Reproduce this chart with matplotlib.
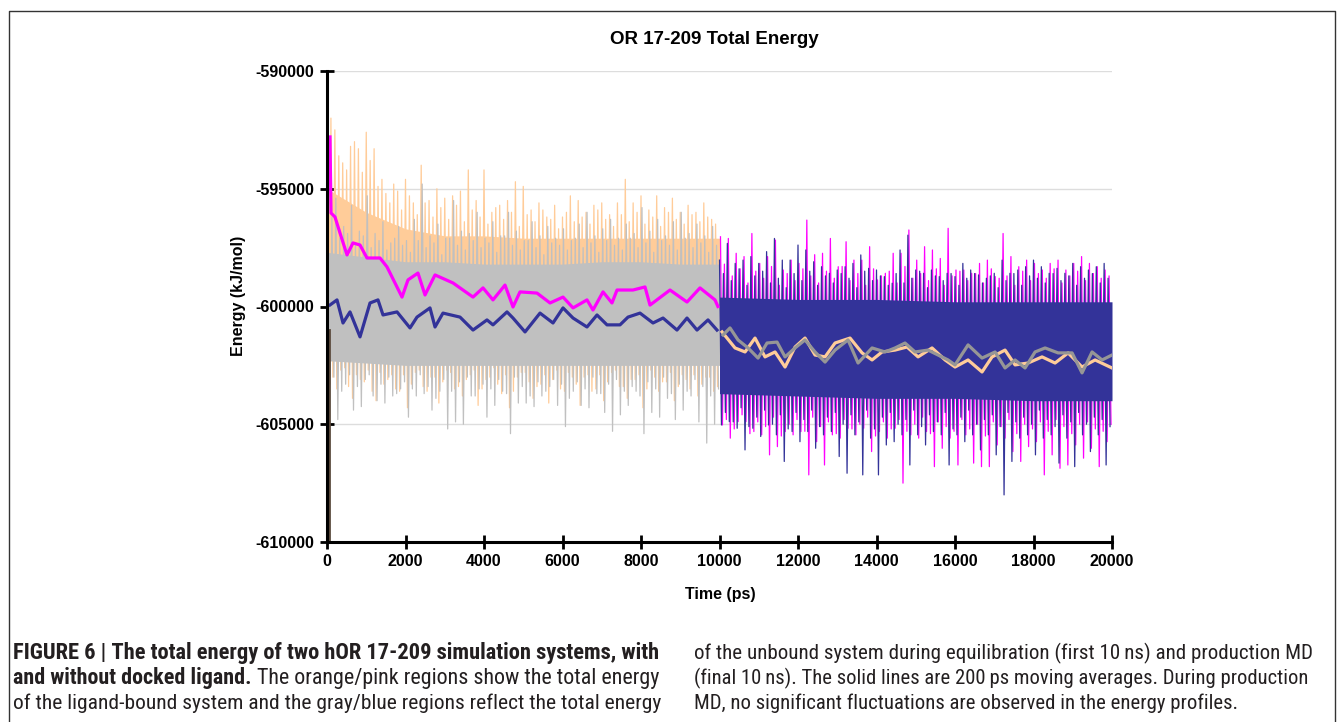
import matplotlib
matplotlib.use('Agg')
import matplotlib.pyplot as plt
import numpy as np
from matplotlib.lines import Line2D
from matplotlib import font_manager as fm

plt.rcParams['axes.unicode_minus'] = False
plt.rcParams['font.family'] = ['Liberation Sans', 'DejaVu Sans']

# ---------------- data ----------------
x_ticks = [0, 2000, 4000, 6000, 8000, 10000, 12000, 14000, 16000, 18000, 20000]
y_ticks = [-610000, -605000, -600000, -595000, -590000]

# Equilibration (0-10 ns) raw envelopes: tall spikes (every 200 ps) and in-between spikes
eq_t_pk = np.arange(0, 10000, 200)
bound_eq_hi = [-590200, -592500, -593900, -593200, -593300, -592600, -593300, -594600, -595600, -595100,
               -594600, -595600, -594000, -595500, -595000, -595400, -595300, -595100, -594200, -595500,
               -594200, -596000, -595700, -595500, -594700, -594900, -595900, -595600, -596200, -595700,
               -596200, -595300, -595500, -596000, -595700, -595600, -596100, -595600, -594600, -595600,
               -595300, -595900, -595300, -595800, -595400, -596000, -595700, -596000, -595600, -596300]
bound_eq_hi2 = [-592000, -593600, -594200, -593000, -594300, -593800, -594900, -595200, -594800, -595900,
                -595300, -596100, -595600, -596200, -595800, -596300, -595700, -596400, -595900, -596200,
                -596500, -595800, -596300, -596000, -596600, -596100, -596400, -595900, -596300, -596700,
                -596000, -596400, -596200, -596500, -595900, -596300, -596600, -596100, -596400, -596000,
                -596500, -596200, -596600, -596000, -596300, -596500, -596100, -596400, -596200, -596500]
bound_eq_lo = [-602800, -603500, -602600, -603900, -603100, -602700, -604000, -603300, -602900, -603600,
               -604300, -602800, -603400, -603000, -604100, -602700, -603500, -603800, -602900, -604200,
               -603100, -602600, -603700, -604300, -603000, -602800, -603900, -603300, -604100, -602700,
               -603600, -603000, -604200, -602900, -603500, -604000, -602800, -603400, -603900, -603100,
               -604300, -602700, -603600, -603200, -604000, -602900, -603500, -603800, -603000, -603600]
bound_eq_lo2 = [-603000, -602700, -603400, -602900, -603200, -603600, -602800, -603100, -603500, -602900,
                -603300, -602700, -603600, -603000, -603200, -602800, -603400, -603100, -602700, -603500,
                -603000, -603300, -602900, -603600, -602800, -603200, -603400, -602900, -603100, -603500,
                -602800, -603300, -603000, -603600, -602900, -603200, -602700, -603400, -603100, -602900,
                -603500, -603000, -603200, -602800, -603400, -603100, -602900, -603300, -603000, -603400]
unbound_eq_hi = [-596500, -595400, -596600, -595700, -596800, -595300, -596900, -596400, -597300, -596600,
                 -597200, -596300, -594800, -597000, -596500, -597100, -595500, -596800, -596900, -596000,
                 -597100, -596400, -597000, -596000, -596800, -597200, -596400, -597000, -596600, -597100,
                 -596700, -597200, -596500, -596000, -597000, -596700, -596300, -597100, -596500, -596900,
                 -595800, -596800, -596300, -597000, -596400, -596000, -596900, -596500, -597000, -596600]
unbound_eq_hi2 = [-596200, -597100, -596900, -597400, -597000, -597500, -597200, -597600, -597100, -597400,
                  -597700, -597200, -597500, -597300, -597800, -597100, -597400, -597600, -597200, -597500,
                  -597300, -597700, -597000, -597400, -597600, -597200, -597500, -597800, -597300, -597400,
                  -597600, -597100, -597500, -597300, -597700, -597200, -597400, -597600, -597100, -597500,
                  -597300, -597700, -597200, -597400, -597600, -597100, -597500, -597300, -597700, -597400]
unbound_eq_lo = [-603300, -604800, -603300, -604400, -604250, -602900, -604000, -604100, -603800, -603500,
                 -604700, -603800, -603700, -604400, -603600, -605200, -604900, -605000, -603800, -603500,
                 -604700, -604200, -603600, -605400, -604100, -604100, -604250, -603800, -603400, -604200,
                 -605100, -603600, -604200, -604300, -603700, -604500, -605300, -604600, -604200, -603600,
                 -605400, -604500, -604700, -603900, -604800, -604400, -603800, -604900, -605800, -605000]
unbound_eq_lo2 = [-603000, -603600, -602900, -603400, -603100, -603800, -603300, -603000, -603700, -603200,
                  -603500, -602900, -603400, -603900, -603100, -603600, -603200, -603000, -603800, -603300,
                  -603500, -603100, -603700, -603000, -603400, -603800, -603200, -603600, -603100, -603300,
                  -603900, -603200, -603500, -603000, -603700, -603300, -603100, -603600, -603400, -603800,
                  -603200, -603500, -603000, -603700, -603300, -603600, -603100, -603400, -603800, -603500]
band_t_eq = [0, 1000, 2000, 3000, 4000, 5000, 6000, 7000, 8000, 9000, 10000]
bound_eq_core_hi = [-595000, -596000, -596700, -597000, -597000, -597100, -597100, -597100, -597100, -597100, -597100]
bound_eq_core_lo = [-602300, -602300, -602300, -602400, -602400, -602400, -602400, -602400, -602400, -602400, -602400]
unbound_eq_core_hi = [-597700, -597900, -598100, -598100, -598200, -598200, -598200, -598100, -598100, -598200, -598200]
unbound_eq_core_lo = [-602300, -602400, -602500, -602500, -602500, -602500, -602500, -602500, -602500, -602500, -602500]
init_drop_t = [40, 40]
init_drop_e = [-601000, -612000]

# Production (10-20 ns) raw envelopes
pr_t_pk = np.arange(10000, 20000, 200)
bound_pr_hi = [-597040, -597110, -597740, -597880, -596900, -598170, -597880, -597180, -598450, -598030,
               -598170, -596330, -597800, -597740, -597110, -598310, -597250, -598030, -598030, -597460,
               -598870, -598590, -597740, -597740, -596750, -598030, -597460, -597600, -597960, -596680,
               -598450, -598450, -598590, -598170, -598030, -598730, -596900, -597880, -598310, -598030,
               -598170, -598450, -598170, -598030, -598450, -598170, -597880, -598170, -598310, -598450]
bound_pr_hi2 = [-598200, -598700, -598400, -599000, -598500, -598800, -598300, -599100, -598600, -598900,
                -598400, -598700, -599000, -598500, -598800, -598300, -598900, -598600, -599100, -598400,
                -598700, -598500, -599000, -598300, -598800, -598600, -598900, -598400, -599100, -598700,
                -598500, -598900, -598600, -599000, -598400, -598800, -598700, -599100, -598500, -598900,
                -598600, -598800, -598400, -599000, -598700, -598500, -598900, -598600, -598800, -598700]
bound_pr_lo = [-605030, -605590, -604890, -604890, -605310, -605450, -606300, -605950, -605310, -605450,
               -605310, -607150, -605740, -606730, -605450, -605590, -605170, -605450, -605170, -606160,
               -605310, -605590, -605170, -607500, -605450, -605590, -605310, -606800, -606020, -605590,
               -606730, -605450, -606650, -606800, -606800, -605880, -605590, -606160, -606580, -605950,
               -605740, -607150, -606300, -606870, -606730, -605880, -606440, -606020, -606800, -605740]
bound_pr_lo2 = [-604800, -605200, -604600, -605400, -604900, -605100, -604700, -605500, -605000, -604800,
                -605300, -604700, -605100, -604900, -605400, -604800, -605200, -605000, -604700, -605500,
                -604900, -605200, -604800, -605300, -605000, -604700, -605400, -604900, -605100, -605300,
                -604800, -605200, -605000, -605500, -604900, -605100, -604800, -605400, -605000, -605200,
                -604900, -605300, -604800, -605100, -605400, -605000, -604900, -605200, -605300, -605000]
unbound_pr_hi = [-598030, -597320, -598170, -598030, -597880, -598170, -597670, -597110, -598030, -598030,
                 -597390, -597600, -598100, -598310, -598590, -598450, -598310, -598170, -597810, -598380,
                 -598450, -598730, -599010, -597600, -596970, -598450, -598590, -598450, -598730, -598590,
                 -598730, -598170, -598450, -598660, -598800, -598590, -598030, -598590, -598450, -598310,
                 -598030, -598310, -598590, -598380, -598590, -598170, -598310, -598450, -598310, -598170]
unbound_pr_hi2 = [-598600, -598900, -598400, -599100, -598700, -598500, -599000, -598800, -599200, -598600,
                  -598900, -598500, -599100, -598700, -599000, -598600, -598800, -599200, -598500, -598900,
                  -598700, -599100, -598600, -599000, -598800, -598500, -599200, -598700, -598900, -598600,
                  -599100, -598800, -598600, -599000, -598700, -599200, -598900, -598600, -599100, -598700,
                  -598800, -599000, -598600, -598900, -598700, -599100, -598800, -598600, -599000, -598800]
unbound_pr_lo = [-605030, -604890, -605170, -606090, -605170, -605520, -605030, -605450, -606580, -605310,
                 -605740, -605310, -606020, -605450, -605310, -606370, -607080, -605450, -607150, -605590,
                 -607150, -605880, -605740, -605450, -606730, -605450, -605880, -605310, -605450, -606730,
                 -605450, -605740, -605450, -606090, -605450, -606300, -608000, -606580, -605590, -605450,
                 -606300, -605590, -605450, -606650, -605590, -606800, -605450, -606160, -605450, -606730]
unbound_pr_lo2 = [-604500, -604900, -604300, -605100, -604700, -604400, -605000, -604600, -605200, -604500,
                  -604800, -604400, -605100, -604700, -604500, -605000, -604600, -604900, -604400, -605200,
                  -604700, -604500, -605000, -604800, -604400, -605100, -604600, -604900, -604500, -605200,
                  -604700, -604400, -605000, -604800, -604600, -605100, -604500, -604900, -604700, -605000,
                  -604400, -604800, -605100, -604600, -604900, -604500, -605000, -604700, -604800, -605100]
band_t_pr = [10000, 12000, 14000, 16000, 18000, 20000]
unbound_pr_core_hi = [-599600, -599700, -599700, -599800, -599800, -599800]
unbound_pr_core_lo = [-603700, -603800, -603900, -603900, -604000, -604000]

# 200 ps moving averages
ma_bound_eq_t = [76, 102, 204, 331, 510, 662, 841, 1019, 1350, 1529, 1911, 2064, 2318, 2497, 2752, 3210,
                 3720, 3975, 4229, 4535, 4739, 4917, 5350, 5682, 6013, 6268, 6624, 6777, 7032, 7261, 7389,
                 7796, 8102, 8229, 8739, 9172, 9503, 9885, 9960]
ma_bound_eq_e = [-592800, -596030, -596200, -596880, -597810, -597300, -597390, -597940, -597940, -598320,
                 -599600, -598870, -598580, -599510, -598660, -599000, -599600, -599210, -599720, -599090,
                 -600020, -599380, -599430, -599850, -599600, -600060, -599720, -600150, -599380, -599850,
                 -599300, -599300, -599170, -599940, -599300, -599810, -599210, -599720, -600000]
ma_unbound_eq_t = [76, 255, 408, 586, 841, 1096, 1299, 1427, 1784, 2115, 2293, 2624, 2752, 2955, 3389, 3720,
                   4076, 4229, 4586, 4739, 5045, 5427, 5758, 6013, 6268, 6624, 6879, 7134, 7465, 7669, 7975,
                   8306, 8561, 8917, 9172, 9427, 9707, 9936]
ma_unbound_eq_e = [-599936, -599720, -600700, -600230, -601290, -599850, -599720, -600360, -600230, -600910,
                   -600450, -600060, -600870, -600280, -600450, -601000, -600570, -600780, -600230, -600490,
                   -601080, -600280, -600700, -600060, -600490, -600870, -600360, -600780, -600780, -600450,
                   -600280, -600700, -600490, -601000, -600490, -601000, -600570, -601000]
ma_unbound_pr_t = [10090, 10268, 10472, 10727, 10982, 11211, 11466, 11670, 11925, 12179, 12434, 12689, 12944,
                   13275, 13530, 13887, 14218, 14473, 14727, 14982, 15313, 15823, 16001, 16333, 16689, 17021,
                   17275, 17530, 17785, 18040, 18295, 18626, 18983, 19237, 19492, 19747, 20000]
ma_unbound_pr_e = [-601210, -600910, -601420, -601760, -602190, -601550, -601510, -602140, -601760, -601420,
                   -601930, -602360, -601850, -601420, -602400, -601760, -601930, -601760, -601550, -601930,
                   -601850, -602270, -602480, -601630, -602190, -601930, -602610, -602270, -602610, -601930,
                   -601760, -601970, -601970, -602820, -601930, -602270, -602060]
ma_bound_pr_t = [10065, 10396, 10651, 10905, 11160, 11415, 11670, 11925, 12179, 12434, 12689, 12944, 13326,
                 13632, 13887, 14141, 14473, 14778, 15059, 15415, 15747, 16001, 16333, 16689, 16944, 17275,
                 17530, 17862, 18218, 18549, 18881, 19237, 19569, 20000]
ma_bound_pr_e = [-601080, -601760, -601930, -601340, -602140, -601930, -602570, -601720, -601340, -602060,
                 -602140, -601550, -601340, -601970, -602270, -601930, -601850, -601720, -602140, -601760,
                 -602270, -602570, -602270, -602780, -602140, -601850, -602480, -602400, -602140, -602400,
                 -601970, -602570, -602270, -602610]

C_ORANGE = '#FFCC99'
C_GRAY = '#C0C0C0'
C_MAG = '#FF00FF'
C_BLUE = '#333399'
C_GRAY_MA = '#969696'


def raw_trace(t_pk, hi, lo, hi2, lo2, phase=0):
    """Interleave the read spike envelopes into one raw trace: peak, low, mid, low..."""
    t_pk = np.asarray(t_pk) + phase
    t = np.concatenate([t_pk, t_pk + 50, t_pk + 100, t_pk + 150])
    v = np.concatenate([hi, lo, hi2, lo2])
    o = np.argsort(t, kind='stable')
    return t[o], v[o]


W, H = 1344, 722
fig = plt.figure(figsize=(W / 100, H / 100), dpi=100)
ax = fig.add_axes([327 / W, 1 - 542 / H, 785 / W, 471 / H])

RAW_LW = 0.9
# equilibration raw
ax.fill_between(band_t_eq, bound_eq_core_lo, bound_eq_core_hi, color=C_ORANGE, lw=0, zorder=2)
t, v = raw_trace(eq_t_pk, bound_eq_hi, bound_eq_lo, bound_eq_hi2, bound_eq_lo2)
ax.plot(t, v, color=C_ORANGE, lw=RAW_LW, zorder=2)
ax.fill_between(band_t_eq, unbound_eq_core_lo, unbound_eq_core_hi, color=C_GRAY, lw=0, zorder=3)
t, v = raw_trace(eq_t_pk, unbound_eq_hi, unbound_eq_lo, unbound_eq_hi2, unbound_eq_lo2, phase=25)
ax.plot(t, v, color=C_GRAY, lw=RAW_LW, zorder=3)
ax.plot(init_drop_t, init_drop_e, color='#5a4a3c', lw=2, zorder=3)

# production raw
t, v = raw_trace(pr_t_pk, bound_pr_hi, bound_pr_lo, bound_pr_hi2, bound_pr_lo2, phase=25)
ax.plot(t, v, color=C_MAG, lw=RAW_LW, zorder=4)
ax.fill_between(band_t_pr, unbound_pr_core_lo, unbound_pr_core_hi, color=C_BLUE, lw=0, zorder=5)
t, v = raw_trace(pr_t_pk, unbound_pr_hi, unbound_pr_lo, unbound_pr_hi2, unbound_pr_lo2)
ax.plot(t, v, color=C_BLUE, lw=RAW_LW, zorder=5)

# moving averages
ax.plot(ma_bound_eq_t, ma_bound_eq_e, color=C_MAG, lw=2.3, zorder=6)
ax.plot(ma_unbound_eq_t, ma_unbound_eq_e, color=C_BLUE, lw=2.3, zorder=6)
ax.plot(ma_bound_pr_t, ma_bound_pr_e, color=C_ORANGE, lw=2.3, zorder=6)
ax.plot(ma_unbound_pr_t, ma_unbound_pr_e, color=C_GRAY_MA, lw=2.3, zorder=7)

ax.set_xlim(0, 20000)
ax.set_ylim(-610000, -590000)
ax.set_xticks(x_ticks)
ax.set_yticks(y_ticks)
ax.set_xticklabels([str(v) for v in x_ticks])
ax.set_yticklabels([str(v) for v in y_ticks])
for lab in ax.get_xticklabels() + ax.get_yticklabels():
    lab.set_fontweight('bold')
    lab.set_fontsize(11.5)
ax.tick_params(direction='inout', length=10, width=2, pad=4, colors='black')
ax.yaxis.grid(True, color='#DDDDDD', lw=1)
ax.set_axisbelow(True)
for s in ['top', 'right']:
    ax.spines[s].set_visible(False)
for s in ['left', 'bottom']:
    ax.spines[s].set_linewidth(2.2)
    ax.spines[s].set_zorder(10)

fig.text(714 / W, 1 - 39 / H, 'OR 17-209 Total Energy', ha='center', va='center',
         fontsize=13.5, fontweight='bold')
fig.text(720 / W, 1 - 595 / H, 'Time (ps)', ha='center', va='center', fontsize=11.5, fontweight='bold')
fig.text(238 / W, 1 - 296 / H, 'Energy (kJ/mol)', ha='center', va='center', rotation=90,
         fontsize=11.5, fontweight='bold')

# frame
frame_x = [9, 9, 1335, 1335]
frame_y = [722, 11, 11, 722]
fig.add_artist(Line2D([px / W for px in frame_x], [1 - py / H for py in frame_y],
                      color='#333333', lw=1, transform=fig.transFigure))

# caption font: prefer a condensed sans if installed
names = {f.name for f in fm.fontManager.ttflist}
cap_family = ['Liberation Sans', 'DejaVu Sans']
cap_stretch = 'normal'
if 'Liberation Sans Narrow' in names:
    cap_family = ['Liberation Sans Narrow', 'DejaVu Sans']
else:
    for fam in ['Roboto Condensed', 'Open Sans Condensed', 'Noto Sans Condensed', 'DejaVu Sans Condensed']:
        if fam in names:
            cap_family = [fam, 'DejaVu Sans']
            break
    else:
        for fam in ['Noto Sans', 'DejaVu Sans', 'Open Sans', 'Roboto']:
            if any(f.name == fam and 'ondensed' in f.fname for f in fm.fontManager.ttflist):
                cap_family = [fam, 'DejaVu Sans']
                cap_stretch = 'condensed'
                break

# caption lines: (text, weight) segments, and the pixel width each line spans in the reference
left_lines = [
    [("FIGURE 6 | The total energy of two hOR 17-209 simulation systems, with", 'bold')],
    [("and without docked ligand.", 'bold'), (" The orange/pink regions show the total energy", 'normal')],
    [("of the ligand-bound system and the gray/blue regions reflect the total energy", 'normal')],
]
left_widths = [649, 644, 647]
right_lines = [
    [("of the unbound system during equilibration (first 10\u2009ns) and production MD", 'normal')],
    [("(final 10\u2009ns). The solid lines are 200\u2009ps moving averages. During production", 'normal')],
    [("MD, no significant fluctuations are observed in the energy profiles.", 'normal')],
]
right_widths = [617, 614, 544]
renderer = fig.canvas.get_renderer()


def draw_line(x, y, segs, target_w):
    # first measure at 12 pt, then rescale so the line spans the reference width
    texts = []
    cur = x
    for s, wt in segs:
        tx = fig.text(cur / W, 1 - y / H, s, fontsize=12, fontweight=wt, family=cap_family,
                      fontstretch=cap_stretch, ha='left', va='baseline', color='#231f20')
        cur = tx.get_window_extent(renderer).x1
        texts.append(tx)
    size = 12 * target_w / (cur - x)
    cur = x
    for tx in texts:
        tx.set_position((cur / W, 1 - y / H))
        tx.set_fontsize(size)
        cur = tx.get_window_extent(renderer).x1


for i, segs in enumerate(left_lines):
    draw_line(13, 659 + 25 * i, segs, left_widths[i])
for i, segs in enumerate(right_lines):
    draw_line(694, 659 + 25 * i, segs, right_widths[i])

fig.savefig('out.png', dpi=100)
